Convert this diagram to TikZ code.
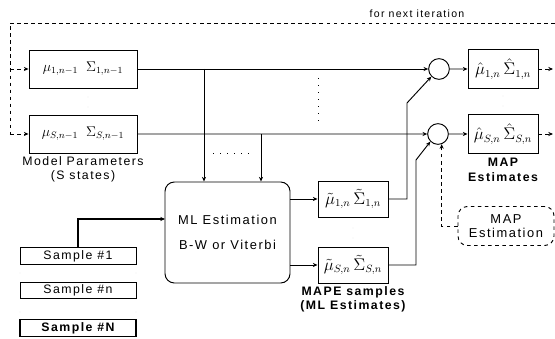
\documentclass[tikz,border=0pt]{standalone}
\usepackage{fontspec}
\setmainfont[LetterSpace=12]{Liberation Sans}
\usetikzlibrary{positioning,arrows.meta}

\begin{document}
\begin{tikzpicture}[xscale = 0.03, yscale = -0.03, line width = 0.8pt, >={Stealth[length=4pt,width=3.5pt]},
	pbox/.style = {draw, minimum width = 3.24cm, minimum height = 1.14cm, inner sep = 0pt, font = \large},
	hbox/.style = {draw, minimum width = 2.1cm, minimum height = 1.17cm, inner sep = 0pt, font = \fontsize{13.5}{15}\selectfont},
	tbox/.style = {draw, minimum width = 2.1cm, minimum height = 1.08cm, inner sep = 0pt, font = \fontsize{13.5}{15}\selectfont},
	sbox/.style = {draw, minimum width = 3.48cm, minimum height = 0.5cm, inner sep = 0pt, font = \fontsize{10.5}{11}\selectfont},
	sumc/.style = {draw, circle, minimum size = 0.62cm, inner sep = 0pt},
	lbl/.style = {align = center, inner sep = 1pt, font = \fontsize{10.5}{12.5}\selectfont}]
	\useasboundingbox (0,0) rectangle (555,339);
	% parameter boxes
	\node [pbox] (par1) at (83,69) {$\mu_{1,n-1}\;\;\Sigma_{1,n-1}$};
	\node [pbox] (parS) at (83,134) {$\mu_{S,n-1}\;\;\Sigma_{S,n-1}$};
	\node [lbl, below = 1pt of parS] (parlbl) {Model Parameters\\(S states)};
	% summing circles and MAP estimates
	\node [sumc] (c1) at (439,69) {};
	\node [sumc] (cS) at (438,134) {};
	\node [hbox] (hat1) at (503,69) {$\hat{\mu}_{1,n}\,\hat{\Sigma}_{1,n}$};
	\node [hbox] (hatS) at (503,134) {$\hat{\mu}_{S,n}\,\hat{\Sigma}_{S,n}$};
	\node [lbl, font = \fontsize{10.5}{12.5}\selectfont\bfseries, below = 2pt of hatS] (hatlbl) {MAP\\Estimates};
	% ML estimation and its samples
	\node [draw, rounded corners = 8pt, minimum width = 3.75cm, minimum height = 3.03cm, align = center, font = \fontsize{11}{13}\selectfont] (ml) at (227.5,232.5) {ML Estimation\\[0.3cm]B-W or Viterbi};
	\node [tbox] (til1) at (353,199) {$\tilde{\mu}_{1,n}\,\tilde{\Sigma}_{1,n}$};
	\node [tbox] (tilS) at (353,265) {$\tilde{\mu}_{S,n}\,\tilde{\Sigma}_{S,n}$};
	\node [lbl, font = \fontsize{10.5}{12.5}\selectfont\bfseries, below = 1pt of tilS] (tillbl) {MAPE samples\\(ML Estimates)};
	\node [draw, dashed, rounded corners = 8pt, minimum width = 2.88cm, minimum height = 1.17cm, align = center, font = \fontsize{11}{12.5}\selectfont] (mapest) at (506,226) {MAP\\Estimation};
	\node [sbox] (s1) at (78,256) {Sample \#1};
	\node [sbox] (sn) at (78,290.5) {Sample \#n};
	\node [sbox, line width = 1.4pt, font = \fontsize{10.5}{11}\selectfont\bfseries] (sN) at (78,328) {Sample \#N};
	\node [font = \fontsize{9}{10}\selectfont] (fni) at (417,14) {for next iteration};
	% helper points
	\coordinate (j1) at (204,69);
	\coordinate (j2) at (261,134);
	\coordinate (k1) at (407,103);
	\coordinate (kS) at (416,160);
	\coordinate (mlin) at (165,219);
	\coordinate (o1) at (553,69);
	\coordinate (oS) at (553,134);
	\coordinate (fbR) at (555,23);
	\coordinate (fbL) at (10,23);
	\coordinate (fb1) at (10,69);
	\coordinate (fbS) at (10,134);
	% connectors
	\draw [->] (par1) -- (c1);
	\draw [->] (parS) -- (cS);
	\draw [->] (j1) -- (j1 |- ml.north);
	\draw [->] (j2) -- (j2 |- ml.north);
	\draw [->] (ml.east |- til1.west) -- (til1.west);
	\draw [->] (ml.east |- tilS.west) -- (tilS.west);
	\draw [->] (til1.east) -| (k1) -- (c1.south west);
	\draw [->] (tilS.east) -| (kS) -- (cS.south west);
	\draw [->] (c1) -- (hat1);
	\draw [->] (cS) -- (hatS);
	\draw [line width = 1.6pt, ->] (s1.north) |- (mlin);
	\draw [dashed, ->] (mapest.west) -| (cS.-70);
	\draw [dashed, ->] (hat1.east) -- (o1);
	\draw [dashed, ->] (hatS.east) -- (oS);
	\draw [dashed] (fbR) -- (fbL) -- (fbS);
	\draw [dashed, ->] (fb1) -- (par1.west);
	\draw [dashed, ->] (fbS) -- (parS.west);
	% dots
	\foreach \x/\y in {88/97, 88/107, 503/96, 503/106, 353/228, 353/238, 20/273, 136/273, 20/312, 136/312}{
	\fill (\x,\y) circle (0.8pt);
	}
	\draw [dash pattern = on 1pt off 5pt] (213,153) -- (255,153);
	\draw [dash pattern = on 1pt off 5pt] (318,78) -- (318,125);
\end{tikzpicture}
\end{document}
